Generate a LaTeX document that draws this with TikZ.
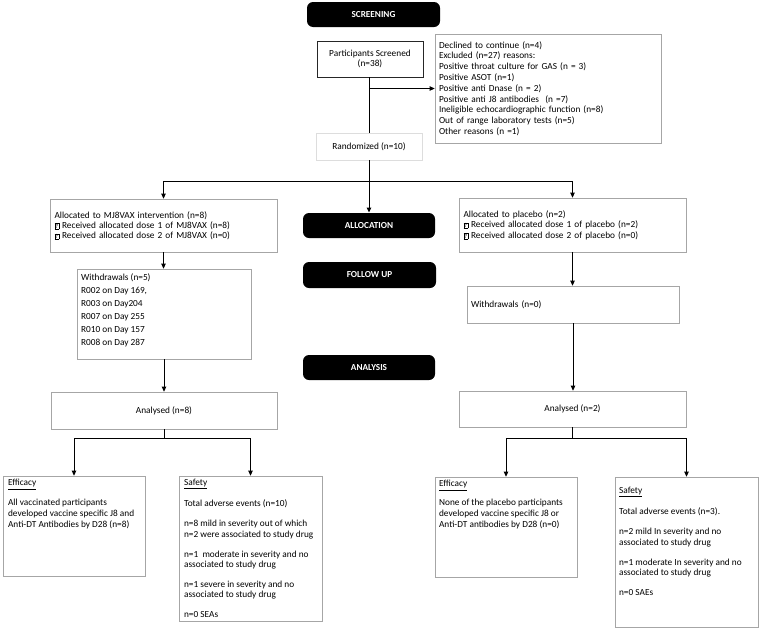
\documentclass[tikz,border=0pt]{standalone}
\usepackage{fontspec}
\setmainfont{Carlito}
\usetikzlibrary{arrows.meta, positioning}
\definecolor{boxgrey}{HTML}{A6A6A6}
\definecolor{lightgrey}{HTML}{DDDDDD}
\newcommand{\missglyph}{{\setlength{\fboxsep}{0.5pt}\setlength{\fboxrule}{0.35pt}\fbox{\fontsize{6}{6}\selectfont ?}}}

\begin{document}
\begin{tikzpicture}[x=1pt, y=-1pt,
    font=\fontsize{9.3}{10.8}\selectfont,
    line width=0.9pt,
    phase/.style={fill=black, rounded corners=6pt, text=white,
      font=\fontsize{9.2}{10}\selectfont\bfseries,
      minimum width=132pt, minimum height=25pt},
    box/.style={draw=boxgrey, line width=0.7pt, align=left,
      inner xsep=4.5pt, inner ysep=0pt},
    cbox/.style={draw=boxgrey, line width=0.7pt, align=center},
    txt/.style={inner sep=0pt, align=left, anchor=north west,
      font=\fontsize{9.3}{10.3}\selectfont},
    arr/.style={-{Triangle[length=5pt, width=4.5pt]}}]
  \useasboundingbox (0,0) rectangle (760,632);

  % phase labels
  \node[phase, minimum width=133pt] (SC) at (373.5,14.5) {SCREENING};
  \node[phase] (AL) at (369,225.5) {ALLOCATION};
  \node[phase, minimum width=133pt, minimum height=26pt]
    (FU) at (369.5,275) {FOLLOW UP};
  \node[phase] (AN) at (369,367.5) {ANALYSIS};

  % screening
  \node[cbox, draw=black!85, minimum width=106pt, minimum height=36pt]
    (PS) at (370,59) {Participants Screened\\(n=38)};
  \node[box, inner xsep=4pt, text width=218pt, minimum height=109pt]
    (EX) at (548,88.5)
    {Declined to continue (n=4)\\
     Excluded (n=27) reasons:\\
     Positive throat culture for GAS (n = 3)\\
     Positive ASOT (n=1)\\
     Positive anti Dnase (n = 2)\\
     Positive anti J8 antibodies\ \ (n =7)\\
     Ineligible echocardiographic function (n=8)\\
     Out of range laboratory tests (n=5)\\
     Other reasons (n =1)};
  \node[cbox, draw=lightgrey, minimum width=106pt, minimum height=27pt]
    (R) at (369,146.5) {Randomized (n=10)};
  \coordinate (RS) at (369,181);

  % allocation
  \node[box, text width=218pt, minimum height=53pt,
    font=\fontsize{9.3}{10.2}\selectfont] (LA) at (163.5,225.5)
    {Allocated to MJ8VAX intervention (n=8)\\
     \missglyph\ Received allocated dose 1 of MJ8VAX (n=8)\\
     \missglyph\ Received allocated dose 2 of MJ8VAX (n=0)};
  \node[box, text width=218pt, minimum height=54pt,
    font=\fontsize{9.3}{10.6}\selectfont] (RA) at (572.5,225)
    {Allocated to placebo (n=2)\\
     \missglyph\ Received allocated dose 1 of placebo (n=2)\\
     \missglyph\ Received allocated dose 2 of placebo (n=0)};

  % follow up
  \node[draw=boxgrey, line width=0.7pt, minimum width=174pt,
    minimum height=90pt] (LW) at (164,314) {};
  \node[txt, font=\fontsize{9.3}{13}\selectfont]
    (LWT) at ([shift={(4,4.3)}]LW.north west)
    {Withdrawals (n=5)\\
     R002 on Day 169,\\
     R003 on Day204\\
     R007 on Day 255\\
     R010 on Day 157\\
     R008 on Day 287};
  \node[box, inner xsep=4pt, text width=204pt, minimum height=37pt]
    (RW) at (573,304.5) {Withdrawals (n=0)};

  % analysis
  \node[cbox, minimum width=226pt, minimum height=37pt]
    (LAN) at (164,410.5) {Analysed (n=8)};
  \node[cbox, minimum width=227pt, minimum height=36pt]
    (RAN) at (572.5,409) {Analysed (n=2)};

  \node[draw=boxgrey, line width=0.7pt, minimum width=142pt,
    minimum height=100pt] (LE) at (74,526) {};
  \node[txt, font=\fontsize{9.3}{10.8}\selectfont]
    (LET) at ([shift={(5,3.3)}]LE.north west)
    {\underline{Efficacy}\\[9.2pt]
     All vaccinated participants\\
     developed vaccine specific J8 and\\
     Anti-DT Antibodies by D28 (n=8)};
  \node[draw=boxgrey, line width=0.7pt, minimum width=143pt,
    minimum height=145pt] (LSA) at (250.5,548.5) {};
  \node[txt] (LSAT) at ([shift={(5,3.3)}]LSA.north west)
    {\underline{Safety}\\[9.7pt]
     Total adverse events (n=10)\\[9.7pt]
     n=8 mild in severity out of which\\
     n=2 were associated to study drug\\[9.7pt]
     n=1\ \ moderate in severity and no\\
     associated to study drug\\[9.7pt]
     n=1 severe in severity and no\\
     associated to study drug\\[9.7pt]
     n=0 SEAs};

  \node[draw=boxgrey, line width=0.7pt, minimum width=142pt,
    minimum height=100pt] (RE) at (506,527) {};
  \node[txt, font=\fontsize{9.3}{10.8}\selectfont]
    (RET) at ([shift={(4,3.3)}]RE.north west)
    {\underline{Efficacy}\\[8.2pt]
     None of the placebo participants\\
     developed vaccine specific J8 or\\
     Anti-DT antibodies by D28 (n=0)};
  \node[draw=boxgrey, line width=0.7pt, minimum width=143pt,
    minimum height=150pt] (RSA) at (686.5,552) {};
  \node[txt] (RSAT) at ([shift={(4,10.3)}]RSA.north west)
    {\underline{Safety}\\[9.7pt]
     Total adverse events (n=3).\\[9.7pt]
     n=2 mild In severity and no\\
     associated to study drug\\[9.7pt]
     n=1 moderate In severity and no\\
     associated to study drug\\[9.7pt]
     n=0 SAEs};

  % connectors
  \draw (PS.south -| R) -- (R.north);
  \draw[arr] (EX.west -| R) -- (EX.west);
  \draw (R.south) -- (RS);
  \draw[arr] (RS) -- (AL.north);
  \draw[arr] (RS) -| (LA.north);
  \draw[arr] (RS) -| (RA.north);
  \draw[arr] (LA.south) -- (LA.south |- LW.north);
  \draw[arr] (LW.south) -- (LW.south |- LAN.north);
  \draw[arr] (RA.south) -- (RA.south |- RW.north);
  \draw[arr] (RW.south) -- (RW.south |- RAN.north);
  \path (LAN.south) ++(0,9.5) coordinate (LS);
  \path (RAN.south) ++(0,11) coordinate (RS2);
  \draw (LAN.south) -- (LS);
  \draw[arr] (LS) -| (LE.north);
  \draw[arr] (LS) -| (LSA.north);
  \draw (RAN.south) -- (RS2);
  \draw[arr] (RS2) -| (RE.north);
  \draw[arr] (RS2) -| (RSA.north);
\end{tikzpicture}
\end{document}
